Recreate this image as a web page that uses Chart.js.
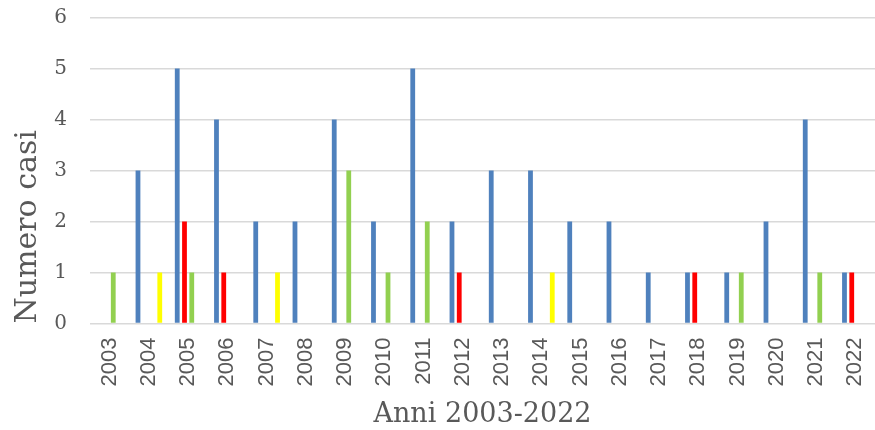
<!DOCTYPE html>
<html>
<head>
<meta charset="utf-8">
<script src="https://cdn.jsdelivr.net/npm/chart.js@4/dist/chart.umd.min.js"></script>
<style>
  html, body { margin: 0; padding: 0; background: #ffffff; }
  #wrap { width: 875px; height: 430px; position: relative; }
</style>
</head>
<body>
<div id="wrap"><canvas id="chart"></canvas></div>
<script>
// Years on the category axis
const anni = ['2003','2004','2005','2006','2007','2008','2009','2010','2011','2012',
              '2013','2014','2015','2016','2017','2018','2019','2020','2021','2022'];

// Number of cases per year, one array per series
const serieBlu    = [0,3,5,4,2,2,4,2,5,2,3,3,2,2,1,1,1,2,4,1];
const serieRossa  = [0,0,2,1,0,0,0,0,0,1,0,0,0,0,0,1,0,0,0,1];
const serieVerde  = [1,0,1,0,0,0,3,1,2,0,0,0,0,0,0,0,1,0,1,0];
const serieGialla = [0,1,0,0,1,0,0,0,0,0,0,1,0,0,0,0,0,0,0,0];

// Y axis tick values
const yTicks = [0,1,2,3,4,5,6];

const grigio = '#595959';
const griglia = '#d9d9d9';

function serie(data, colore) {
  return {
    data: data,
    backgroundColor: colore,
    borderWidth: 0,
    categoryPercentage: 0.74,
    barPercentage: 0.66
  };
}

new Chart(document.getElementById('chart'), {
  type: 'bar',
  data: {
    labels: anni,
    datasets: [
      serie(serieBlu, '#4f81bd'),
      serie(serieRossa, '#ff0000'),
      serie(serieVerde, '#92d050'),
      serie(serieGialla, '#ffff00')
    ]
  },
  options: {
    responsive: true,
    maintainAspectRatio: false,
    animation: false,
    layout: { padding: { top: 17.5, right: 0, bottom: 0, left: 0 } },
    plugins: {
      legend: { display: false },
      tooltip: { enabled: false }
    },
    scales: {
      x: {
        grid: { display: false },
        border: { display: false },
        ticks: {
          color: grigio,
          font: { family: '"Liberation Sans", Arial, sans-serif', size: 22 },
          minRotation: 90,
          maxRotation: 90,
          padding: 6,
          autoSkip: false
        },
        title: {
          display: true,
          text: 'Anni 2003-2022',
          color: grigio,
          font: { family: '"DejaVu Serif", serif', size: 27, lineHeight: 1.0 },
          padding: { top: 0, bottom: 2 }
        },
        afterFit: function (scale) {
          scale.height = 106.5;
          scale.paddingLeft = 0;
          scale.paddingRight = 0;
        }
      },
      y: {
        min: 0,
        max: 6,
        afterBuildTicks: function (scale) {
          scale.ticks = yTicks.map(function (v) { return { value: v }; });
        },
        grid: { color: griglia, lineWidth: 1.5, drawTicks: false },
        border: { display: false },
        ticks: {
          color: grigio,
          font: { family: '"DejaVu Serif", serif', size: 20 },
          padding: 23
        },
        title: {
          display: true,
          text: 'Numero casi',
          align: 'start',
          color: grigio,
          font: { family: '"DejaVu Serif", serif', size: 30, lineHeight: 1.0 },
          padding: { top: 13, bottom: 0 }
        },
        afterFit: function (scale) {
          scale.width = 90;
          scale.paddingTop = 0;
          scale.paddingBottom = 0;
        }
      }
    }
  }
});
</script>
</body>
</html>
